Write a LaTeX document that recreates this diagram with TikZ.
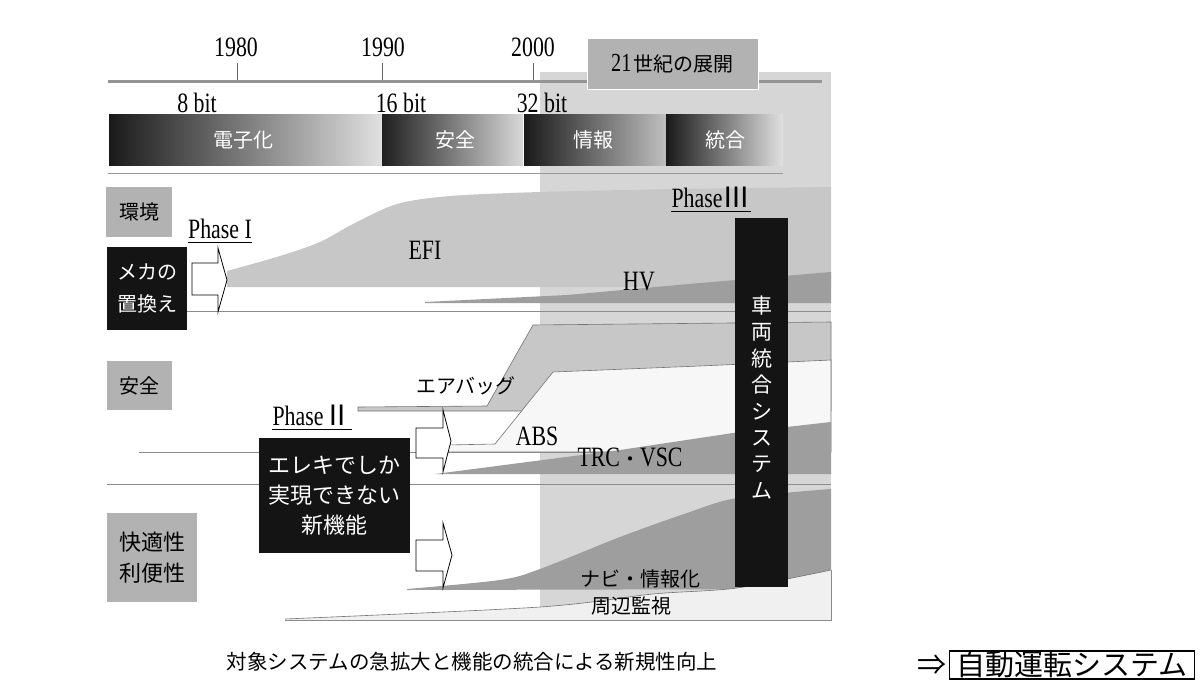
\documentclass[tikz,border=0pt]{standalone}
\usepackage{fontspec}
\setmainfont{Liberation Serif}
\newfontfamily\lat[FakeStretch=0.78]{Liberation Serif}
\newfontfamily\cjk{Noto Sans CJK JP}
\newcommand\fsz[2]{\fontsize{#1}{#2}\selectfont}
\begin{document}
\begin{tikzpicture}[x=1pt,y=-1pt,
  latx/.style={font=\lat\fsz{28}{32}, inner sep=0},
  jp/.style={font=\cjk\fsz{20}{24}, inner sep=0},
  catbox/.style={fill=black!30, inner sep=0, align=center, font=\cjk\fsz{20}{31}},
  blackbox/.style={fill=black!92, text=white, inner sep=0, align=center},
  bar/.style={shade, shading=axis, inner sep=0, text=white, font=\cjk\fsz{20}{24}},
  thinline/.style={draw=black!45, line width=0.8},
  blockarrow/.style={draw=black, fill=white, line width=0.8, line join=miter},
  shapeA/.style={fill=black!22},
  shapeB/.style={fill=black!38},
  edge/.style={draw=black!55, line width=0.6},
  uline/.style={draw=black, line width=0.9}]
\useasboundingbox (0,0) rectangle (1204,680);

% 21st-century panel
\fill[black!16] (540,72) rectangle (831,620);

% timeline
\draw[black!42, line width=3] (108,81) -- (822,81);
\foreach \x in {237,382,533} \draw[black!60, line width=0.8] (\x,63) -- (\x,80);
\node[latx] (y80) at (236,47) {1980};
\node[latx] (y90) at (383,47) {1990};
\node[latx] (y00) at (533,47) {2000};
\node[latx] (b8)  at (197,103) {8 bit};
\node[latx] (b16) at (401,103) {16 bit};
\node[latx] (b32) at (542,103) {32 bit};

% era bars
\node[bar, left color=black!90, right color=black!12, minimum width=273, minimum height=51] (bar1) at (245.5,139.5) {};
\node[bar, left color=black!88, right color=black!15, minimum width=141, minimum height=51] (bar2) at (452.5,139.5) {};
\node[bar, left color=black!90, right color=black!25, minimum width=142, minimum height=51] (bar3) at (595,139.5) {};
\node[bar, left color=black!90, right color=black!12, minimum width=117, minimum height=51] (bar4) at (724.5,139.5) {};
\node[jp, text=white] (t1) at (243,140) {電子化};
\node[jp, text=white] (t2) at (455,140) {安全};
\node[jp, text=white] (t3) at (593,140) {情報};
\node[jp, text=white] (t4) at (725,140) {統合};
\draw[black!40, line width=1] (108,173) -- (783,173);

% 21 century box
\node[fill=black!30, draw=white, line width=0.8, minimum width=171, minimum height=51, inner sep=0] (c21) at (672.5,63.5)
  {{\lat\fsz{26}{30}21} {\cjk\fsz{20}{24}世紀の展開}};

% row separator lines
\draw[thinline] (187,311) -- (831,311);
\draw[thinline] (139,452) -- (831,452);
\draw[thinline] (107,484) -- (831,484);

% EFI
\fill[shapeA] (227,287) -- plot[smooth] coordinates {(227,271) (280,256) (320,242) (353,224) (397,204) (450,196) (540,192) (677,189) (831,187)} -- (831,287) -- cycle;
% HV
\fill[shapeB] (425,302) -- (567,295) -- (700,283) -- (831,272) -- (831,303) -- (425,303) -- cycle;
% airbag
\path[shapeA, edge] (358,411) -- (358,407) -- (487,406) -- (533,325) -- (831,322) -- (831,411) -- cycle;
% ABS
\path[fill=black!3, edge] (447,452) -- (447,445) -- (495,444) -- (553,372) -- (700,366) -- (831,360) -- (831,452) -- cycle;
% TRC VSC
\fill[shapeB] (435,474) -- (620,450) -- (733,433) -- (831,422) -- (831,474) -- cycle;
% navi
\fill[shapeB] (407,590) -- plot[smooth] coordinates {(407,589) (500,580) (540,569) (620,537) (687,513) (737,498) (831,489)} -- (831,589) -- cycle;
% surround monitoring
\path[fill=black!6] (285,619) -- plot[smooth] coordinates {(285,619) (540,607) (653,594) (737,588) (831,570)} -- (831,620) -- (285,620) -- cycle;
\draw[edge] plot[smooth] coordinates {(285,619) (540,607) (653,594) (737,588) (831,570)};
\draw[black!45, line width=0.8] (285,620) -- (831,620) -- (831,570);

% block arrows
\draw[blockarrow] (192,263) -- (218,263) -- (218,248) -- (227,280) -- (218,312) -- (218,295) -- (192,295) -- cycle;
\draw[blockarrow] (416,428) -- (443,428) -- (443,410) -- (451,441) -- (443,472) -- (443,458) -- (416,458) -- cycle;
\draw[blockarrow] (416,540) -- (443,540) -- (443,523) -- (452,555) -- (443,588) -- (443,571) -- (416,571) -- cycle;

% category boxes
\node[catbox, minimum width=66, minimum height=50] (env) at (139,212) {環境};
\node[catbox, minimum width=65, minimum height=49] (saf) at (139.5,385.5) {安全};
\node[catbox, minimum width=90, minimum height=89, font=\cjk\fsz{22}{31}] (com) at (152,557.5) {快適性\\利便性};

% black boxes
\node[blackbox, minimum width=80, minimum height=83, font=\cjk\fsz{20}{32}] (mech) at (147,288.5) {メカの\\置換え};
\node[blackbox, minimum width=151, minimum height=115, font=\cjk\fsz{22}{30}] (elec) at (334.5,495.5) {エレキでしか\\実現できない\\新機能};
\node[blackbox, minimum width=53, minimum height=369] (veh) at (761.5,402.5) {};
\node[blackbox, fill=none, font=\cjk\fsz{21}{26.4}] (vehtxt) at (761.5,397.5) {車\\両\\統\\合\\シ\\ス\\テ\\ム};

% phase labels
\node[latx, anchor=base] (ph1) at (220,238) {Phase I};
\draw[uline] ([yshift=-4pt]ph1.base west) -- ([yshift=-4pt]ph1.base east);
\node[latx, anchor=base] (ph2) at (312,425) {Phase{\cjk\fsz{28}{32}Ⅱ}};
\draw[uline] ([yshift=-4pt]ph2.base west) -- ([yshift=-4pt]ph2.base east);
\node[latx, anchor=base] (ph3) at (711,207) {Phase{\cjk\fsz{28}{32}Ⅲ}};
\draw[uline] ([yshift=-4pt]ph3.base west) -- ([yshift=-4pt]ph3.base east);

% function labels
\node[latx] (efi) at (425,250) {EFI};
\node[latx] (hv) at (639,282) {HV};
\node[latx] (abs) at (537,436) {ABS};
\node[latx] (trc) at (630,457) {TRC{\cjk\fsz{20}{24}・}VSC};
\node[jp] (air) at (466,386) {エアバッグ};
\node[jp] (navi) at (640,579) {ナビ・情報化};
\node[jp] (mon) at (631,606) {周辺監視};

% caption
\node[font=\cjk\fsz{20.5}{25}, inner sep=0] (cap) at (472,662) {対象システムの急拡大と機能の統合による新規性向上};

% autonomous driving
\node[draw=black, line width=1.5, inner xsep=7, inner ysep=0.5, font=\cjk\fsz{29}{33}, anchor=south] (auto) at (1072,679.5) {自動運転システム};
\node[font=\cjk\fsz{29}{33}, inner sep=0, anchor=east] (impl) at ([xshift=-2pt]auto.west) {⇒};
\end{tikzpicture}
\end{document}
